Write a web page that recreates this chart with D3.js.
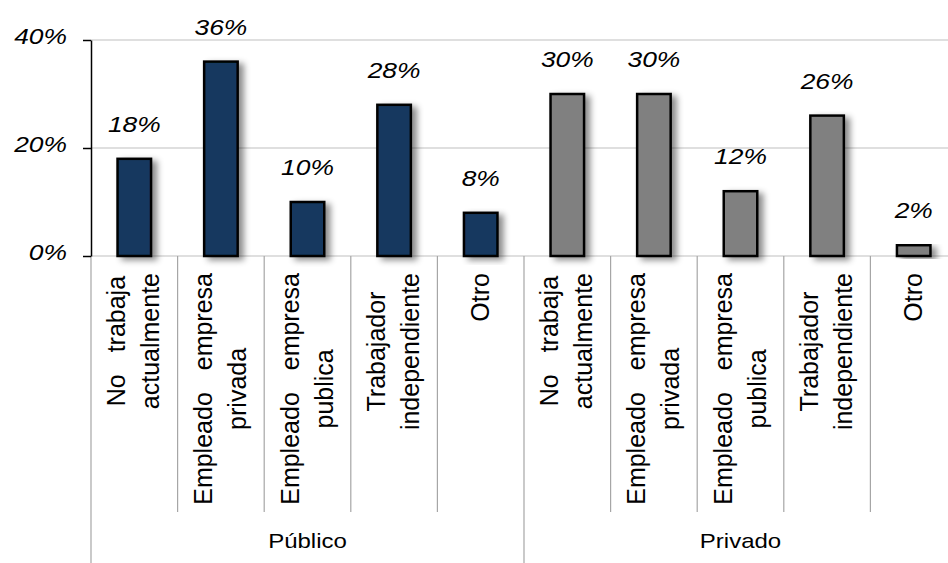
<!DOCTYPE html>
<html>
<head>
<meta charset="utf-8">
<script src="https://cdn.jsdelivr.net/npm/d3@7"></script>
<style>
  html, body { margin: 0; padding: 0; background: #fff; }
  svg { display: block; font-family: "Liberation Sans", Arial, sans-serif; }
</style>
</head>
<body>
<svg id="chart" width="948" height="563"></svg>
<script>
// ---- data ----
const groups = ["Público", "Privado"];
const categories = ["No trabaja actualmente", "Empleado empresa privada", "Empleado empresa publica", "Trabajador independiente", "Otro"];
const categoryLines = [["No trabaja", "actualmente"], ["Empleado empresa", "privada"], ["Empleado empresa", "publica"], ["Trabajador", "independiente"], ["Otro"]];
const publicoValues = [18, 36, 10, 28, 8];
const privadoValues = [30, 30, 12, 26, 2];
const yTicks = [0, 20, 40];
const groupColors = ["#17375E", "#808080"];

// ---- layout ----
const W = 948, H = 563;
const plotLeft = 91, plotRight = 957, plotTop = 40, plotBottom = 256;
const catSepBottom = 512, groupSepBottom = 563;
const sx = 1.2; // horizontal text stretch

const rows = [];
groups.forEach((g, gi) => {
  const vals = gi === 0 ? publicoValues : privadoValues;
  categories.forEach((c, ci) => rows.push({ key: g + "|" + c, group: g, gi, ci, value: vals[ci], lines: categoryLines[ci] }));
});

const svg = d3.select("#chart");
const defs = svg.append("defs");
const f = defs.append("filter").attr("id", "shadow").attr("x", "-30%").attr("y", "-10%").attr("width", "180%").attr("height", "130%");
f.append("feDropShadow").attr("dx", 5).attr("dy", 3).attr("stdDeviation", 3).attr("flood-color", "#000").attr("flood-opacity", 0.45);

const x = d3.scaleBand().domain(rows.map(d => d.key)).range([plotLeft, plotRight]).padding(0);
const y = d3.scaleLinear().domain([0, 40]).range([plotBottom, plotTop]);
const step = x.bandwidth();
const barW = step * 0.387;

// gridlines
svg.append("g").selectAll("line").data(yTicks).join("line")
  .attr("x1", plotLeft).attr("x2", plotRight)
  .attr("y1", d => y(d)).attr("y2", d => y(d))
  .attr("stroke", "#c0c0c0").attr("stroke-width", 1.2);

// category separators
const catBounds = rows.map(d => x(d.key)).concat([plotRight]);
svg.append("g").selectAll("line").data(catBounds).join("line")
  .attr("x1", d => d).attr("x2", d => d)
  .attr("y1", plotBottom)
  .attr("y2", (d, i) => (i % 5 === 0) ? groupSepBottom : catSepBottom)
  .attr("stroke", "#a6a6a6").attr("stroke-width", 1.2);

// y axis
const yAxis = d3.axisLeft(y).tickValues(yTicks).tickSize(8).tickSizeOuter(0).tickFormat(d => d + "%");
const ya = svg.append("g").attr("transform", `translate(${plotLeft},0)`).call(yAxis);
ya.select(".domain").attr("stroke", "#000").attr("stroke-width", 1.5);
ya.selectAll(".tick line").attr("stroke", "#000").attr("stroke-width", 1.5);
ya.selectAll(".tick text")
  .attr("x", -24 / sx).attr("dy", 3.5)
  .attr("transform", `scale(${sx},1)`)
  .attr("font-size", 22).attr("font-style", "italic")
  .attr("font-family", "'Liberation Sans', Arial, sans-serif")
  .attr("fill", "#000").attr("text-anchor", "end");

// bars
svg.append("g").selectAll("rect").data(rows).join("rect")
  .attr("x", d => x(d.key) + step / 2 - barW / 2)
  .attr("width", barW)
  .attr("y", d => y(d.value))
  .attr("height", d => y(0) - y(d.value))
  .attr("fill", d => groupColors[d.gi])
  .attr("stroke", "#000").attr("stroke-width", 2.5)
  .attr("filter", "url(#shadow)");

// value labels
svg.append("g").selectAll("text").data(rows).join("text")
  .attr("transform", d => `translate(${x(d.key) + step / 2},${y(d.value) - 27}) scale(${sx},1)`)
  .attr("text-anchor", "middle")
  .attr("font-size", 22).attr("font-style", "italic").attr("fill", "#000")
  .text(d => d.value + "%");

// category labels (rotated)
const labelTop = 273, lineGap = 34;
rows.forEach(d => {
  const c = x(d.key) + step / 2;
  const n = d.lines.length;
  const g = svg.append("g");
  const texts = d.lines.map((ln, i) => {
    return g.append("text")
      .attr("font-size", 25).attr("fill", "#000")
      .attr("text-anchor", "middle")
      .style("word-spacing", (n > 1 && i === 0 && ln.indexOf(" ") > 0) ? "15px" : "0px")
      .text(ln);
  });
  const maxLen = d3.max(texts, t => t.node().getComputedTextLength());
  const cy = labelTop + maxLen / 2;
  texts.forEach((t, i) => {
    const bx = c + 8 + (i - (n - 1) / 2) * lineGap;
    t.attr("transform", `translate(${bx},${cy}) rotate(-90)`);
  });
});

// group labels
svg.append("g").selectAll("text").data(groups).join("text")
  .attr("transform", (g, gi) => {
    const a = x(g + "|" + categories[0]);
    const b = x(g + "|" + categories[categories.length - 1]) + step;
    return `translate(${(a + b) / 2},548) scale(${sx},1)`;
  })
  .attr("text-anchor", "middle").attr("font-size", 20).attr("fill", "#000")
  .text(g => g);
</script>
</body>
</html>
